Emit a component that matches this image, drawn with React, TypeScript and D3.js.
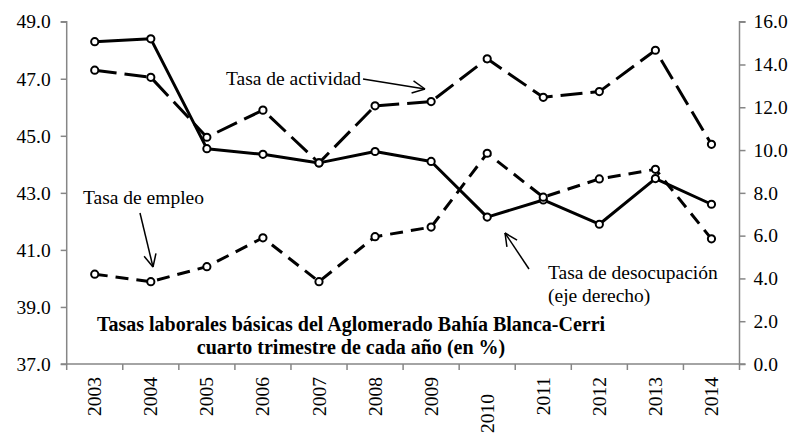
import React, { useEffect, useRef } from 'react';
import * as d3 from 'd3';

const years = ['2003', '2004', '2005', '2006', '2007', '2008', '2009', '2010', '2011', '2012', '2013', '2014'];
// left axis
const actividad = [47.3, 47.05, 44.95, 45.9, 44.05, 46.05, 46.2, 47.7, 46.35, 46.55, 48.0, 44.7];
const empleo = [48.3, 48.4, 44.55, 44.35, 44.05, 44.45, 44.1, 42.15, 42.75, 41.9, 43.5, 42.6];
// right axis
const desocupacion = [4.2, 3.85, 4.55, 5.9, 3.85, 5.95, 6.4, 9.85, 7.8, 8.65, 9.1, 5.85];

const leftTicks = [37, 39, 41, 43, 45, 47, 49];
const rightTicks = [0, 2, 4, 6, 8, 10, 12, 14, 16];

const W = 794;
const H = 433;
const FONT = "'Times New Roman', 'Liberation Serif', 'DejaVu Serif', serif";

export default function App() {
  const svgRef = useRef<SVGSVGElement>(null);

  useEffect(() => {
    if (!svgRef.current) return;
    const svg = d3.select(svgRef.current);
    svg.selectAll('*').remove();

    const left = 66.7, right = 739.5, top = 21.7, bottom = 364;
    const x = d3.scaleBand<string>().domain(years).range([left, right]);
    const cx = (d: string) => (x(d) as number) + x.bandwidth() / 2;
    const yL = d3.scaleLinear().domain([37, 49]).range([bottom, top]);
    const yR = d3.scaleLinear().domain([0, 16]).range([bottom, top]);

    const axisColor = '#868686';

    // left axis
    const gl = svg.append('g').attr('transform', `translate(${left},0)`)
      .call(d3.axisLeft(yL).tickValues(leftTicks).tickFormat(d3.format('.1f')).tickSize(6).tickPadding(10));
    // right axis
    const gr = svg.append('g').attr('transform', `translate(${right},0)`)
      .call(d3.axisRight(yR).tickValues(rightTicks).tickFormat(d3.format('.1f')).tickSize(6).tickPadding(8));
    // x axis: ticks at category boundaries
    const gx = svg.append('g').attr('transform', `translate(0,${bottom})`);
    gx.append('line').attr('x1', left).attr('x2', right).attr('stroke', axisColor).attr('stroke-width', 1.5);
    const bounds = years.map(d => x(d) as number).concat([right]);
    gx.selectAll('line.tk').data(bounds).join('line').attr('class', 'tk')
      .attr('x1', d => d).attr('x2', d => d).attr('y1', 0).attr('y2', 6)
      .attr('stroke', axisColor).attr('stroke-width', 1.5);
    gx.selectAll('text').data(years).join('text')
      .attr('transform', d => `translate(${cx(d) + 6.5},${d === '2010' ? 30 : 13}) rotate(-90)`)
      .attr('text-anchor', 'end')
      .attr('font-family', FONT).style('font-family', FONT).style('font-size', '19.5px').attr('fill', '#000')
      .text(d => d);

    [gl, gr].forEach(g => {
      g.attr('font-family', FONT);
      g.select('.domain').attr('stroke', axisColor).attr('stroke-width', 1.5);
      g.selectAll('.tick line').attr('stroke', axisColor).attr('stroke-width', 1.5);
      g.selectAll('.tick text').style('font-family', FONT).style('font-size', '19.5px').attr('fill', '#000');
    });
    gl.select('.domain').attr('d', `M-6,${top}H0V${bottom}H-6`);
    gr.select('.domain').attr('d', `M6,${top}H0V${bottom}H6`);

    const series = [
      { values: empleo, y: yL, dash: null },
      { values: actividad, y: yL, dash: '22,8' },
      { values: desocupacion, y: yR, dash: '13,8' },
    ];

    series.forEach(s => {
      const line = d3.line<number>().x((_, i) => cx(years[i])).y(v => s.y(v));
      svg.append('path').attr('d', line(s.values) as string)
        .attr('fill', 'none').attr('stroke', '#000').attr('stroke-width', 3)
        .attr('stroke-dasharray', s.dash as any).attr('stroke-linejoin', 'round');
    });
    series.forEach(s => {
      svg.append('g').selectAll('circle').data(s.values).join('circle')
        .attr('cx', (_, i) => cx(years[i])).attr('cy', v => s.y(v)).attr('r', 3.6)
        .attr('fill', '#fff').attr('stroke', '#000').attr('stroke-width', 2);
    });

    // annotations
    const txt = (t: string, px: number, py: number, bold = false, size = 19.5, anchor = 'start') =>
      svg.append('text').attr('x', px).attr('y', py).attr('text-anchor', anchor)
        .attr('font-family', FONT).style('font-family', FONT).style('font-size', `${size}px`)
        .style('font-weight', bold ? 'bold' : 'normal').attr('fill', '#000').text(t);

    const arrow = (x1: number, y1: number, x2: number, y2: number) => {
      svg.append('line').attr('x1', x1).attr('y1', y1).attr('x2', x2).attr('y2', y2)
        .attr('stroke', '#000').attr('stroke-width', 1.5);
      const a = Math.atan2(y2 - y1, x2 - x1);
      const len = 14, spread = 0.45;
      [a + Math.PI - spread, a + Math.PI + spread].forEach(b => {
        svg.append('line').attr('x1', x2).attr('y1', y2)
          .attr('x2', x2 + len * Math.cos(b)).attr('y2', y2 + len * Math.sin(b))
          .attr('stroke', '#000').attr('stroke-width', 1.5);
      });
    };

    txt('Tasa de actividad', 226, 85);
    arrow(363, 79, 425, 89);
    txt('Tasa de empleo', 83, 204);
    arrow(140, 213, 153, 267);
    txt('Tasa de desocupación', 548, 279);
    txt('(eje derecho)', 548, 302);
    arrow(529, 269, 505, 233);

    txt('Tasas laborales básicas del Aglomerado Bahía Blanca-Cerri', 351, 331, true, 20, 'middle');
    txt('cuarto trimestre de cada año (en %)', 351, 354, true, 20, 'middle');
  }, []);

  return (
    <svg ref={svgRef} width={W} height={H}
      style={{ position: 'absolute', left: 0, top: 0, background: '#fff' }} />
  );
}
